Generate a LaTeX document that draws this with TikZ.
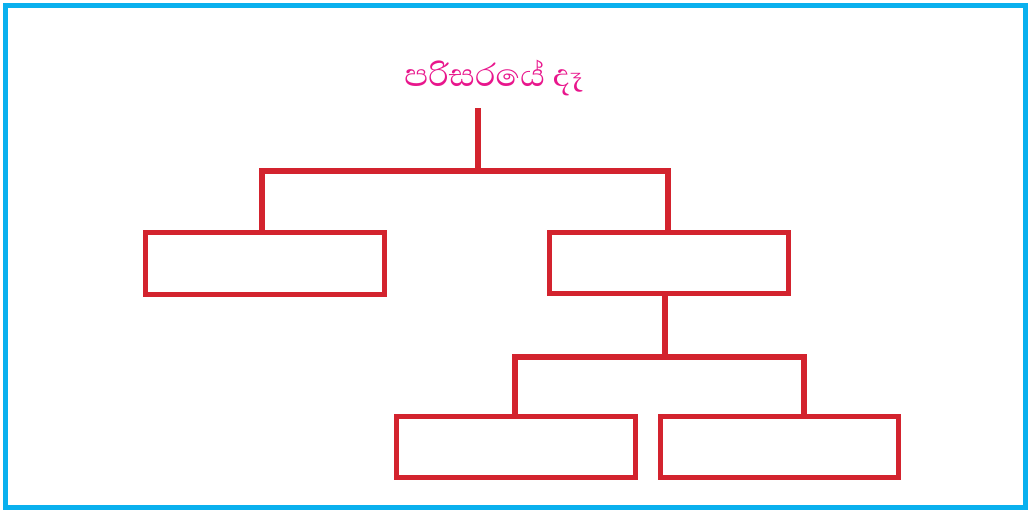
\documentclass[tikz,border=0pt]{standalone}
\usepackage{fontspec}
\newfontfamily\sinhalafont[Script=Sinhala]{Abhaya Libre}
\usetikzlibrary{positioning,calc}
\definecolor{frameblue}{HTML}{0AB0EE}
\definecolor{boxred}{HTML}{D3232E}
\definecolor{titlepink}{HTML}{E8168C}

\begin{document}
\begin{tikzpicture}[
    x=0.025cm, y=-0.025cm,
    field/.style={draw=boxred, line width=3.8pt, minimum width=5.96cm, minimum height=1.54cm, inner sep=0pt},
    link/.style={draw=boxred, line width=3.8pt}
]
\useasboundingbox (0,0) rectangle (1029,512);
\draw[frameblue, line width=3.9pt] (5.5,5.7) rectangle (1025.5,507.5);

\node[text=titlepink, font=\sinhalafont\fontsize{29}{32}\selectfont] (title) at (494,78) {පරිසරයේ දෑ};

\node[field] (left) at (265,263.5) {};
\node[field] (right) at (669,263) {};
\node[field] (lowleft) at (516,447) {};
\node[field] (lowright) at (779.5,447) {};

\coordinate (top) at (478,108);
\coordinate (j1) at (478,171);
\coordinate (j2) at (665,357);

\draw[link] (top) -- (j1);
\draw[link] (left.north -| 262,0) |- (j1) -| (right.north -| 668,0);
\draw[link] (right.south -| j2) -- (j2);
\draw[link] (lowleft.north -| 515,0) |- (j2) -| (lowright.north -| 804,0);
\end{tikzpicture}
\end{document}
